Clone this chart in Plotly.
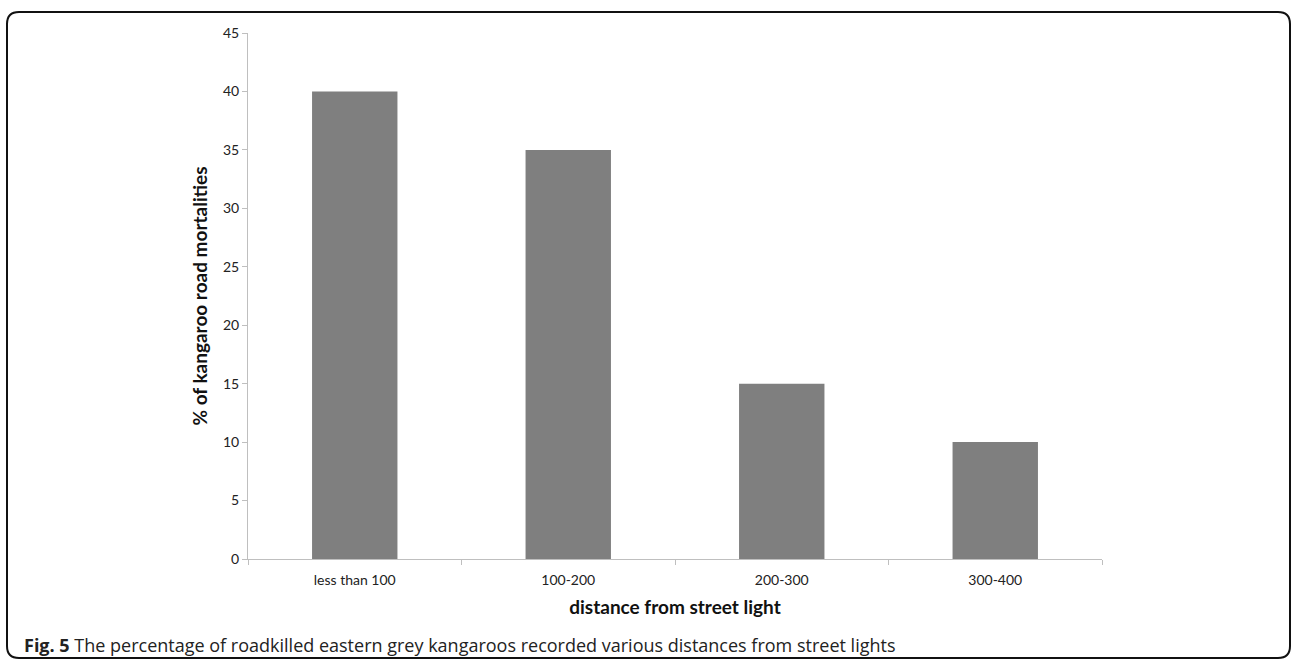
import plotly.graph_objects as go

categories = ["less than 100", "100-200", "200-300", "300-400"]
values = [40, 35, 15, 10]
y_ticks = [0, 5, 10, 15, 20, 25, 30, 35, 40, 45]

W, H = 1292, 659
L, R, T, B = 248, 1102, 33, 559


def px(x):
    return (x - L) / (R - L)


def py(y):
    return (B - y) / (B - T)


fig = go.Figure()
fig.add_trace(go.Bar(x=categories, y=values, marker=dict(color="#7f7f7f", line=dict(width=0)),
                     width=0.4))

# rounded border
x0, x1, y0, y1, r = 7, 1290, 12, 658, 12
path = (f"M {px(x0+r)},{py(y0)} L {px(x1-r)},{py(y0)} Q {px(x1)},{py(y0)} {px(x1)},{py(y0+r)} "
        f"L {px(x1)},{py(y1-r)} Q {px(x1)},{py(y1)} {px(x1-r)},{py(y1)} "
        f"L {px(x0+r)},{py(y1)} Q {px(x0)},{py(y1)} {px(x0)},{py(y1-r)} "
        f"L {px(x0)},{py(y0+r)} Q {px(x0)},{py(y0)} {px(x0+r)},{py(y0)} Z")
fig.add_shape(type="path", path=path, xref="paper", yref="paper",
              line=dict(color="#111111", width=2))

fig.add_annotation(x=px(22), y=py(645), xref="paper", yref="paper", xanchor="left", yanchor="middle",
                   showarrow=False, align="left",
                   text="<b>Fig. 5</b> The percentage of roadkilled eastern grey kangaroos recorded various distances from street lights",
                   font=dict(family="Open Sans", size=18, color="#222222"))

fig.update_layout(
    width=W, height=H,
    margin=dict(l=L, r=W - R, t=T, b=H - B),
    paper_bgcolor="white", plot_bgcolor="white",
    showlegend=False,
    font=dict(family="Lato", size=14, color="#222222"),
    xaxis=dict(
        type="category", tickson="boundaries", ticks="outside", ticklen=5, tickcolor="#bfbfbf",
        showline=True, linecolor="#bfbfbf", linewidth=1, showgrid=False, ticklabelstandoff=8,
        tickfont=dict(family="Lato", size=14, color="#222222"),
        title=dict(text="<b>distance from street light</b>", standoff=13,
                   font=dict(family="Lato", size=19, color="#111111")),
    ),
    yaxis=dict(
        range=[0, 45], tickvals=y_ticks, ticks="outside", ticklen=5, tickcolor="#bfbfbf",
        showline=True, linecolor="#bfbfbf", linewidth=1, showgrid=False, zeroline=False,
        tickfont=dict(family="Lato", size=14, color="#222222"),
        title=dict(text="<b>% of kangaroo road mortalities</b>", standoff=10,
                   font=dict(family="Lato", size=19, color="#111111")),
    ),
)

fig.write_html("out.html", config={"displayModeBar": False},
               post_script="document.body.style.margin='0';")
